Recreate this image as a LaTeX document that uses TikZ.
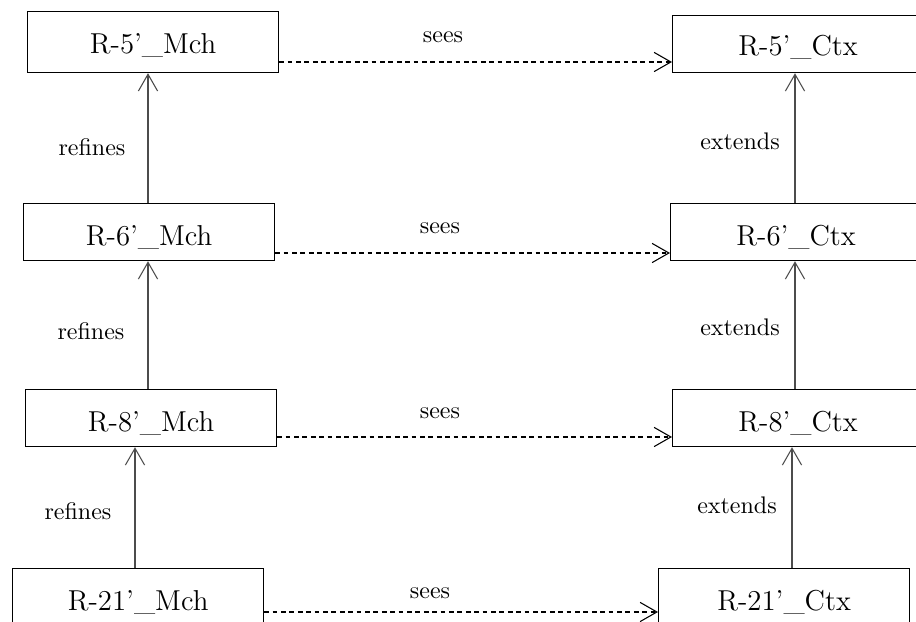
\documentclass[tikz,border=0pt]{standalone}
\usetikzlibrary{arrows.meta}
\begin{document}
\begin{tikzpicture}[x=0.41667pt,y=-0.41667pt,
  box/.style={draw, line width=0.5pt, inner sep=0pt, minimum width=104.6pt,
    text height=17.5pt, text depth=6.25pt, font=\large, anchor=north west},
  lbl/.style={font=\normalsize, inner sep=0pt},
  refarrow/.style={-{Straight Barb[length=7pt,width=8pt]}, line width=0.45pt, draw=black!70},
  seesarrow/.style={-{Straight Barb[length=7pt,width=8pt]}, dash pattern=on 2pt off 1.5pt, line width=0.45pt}]
\useasboundingbox (0,0) rectangle (916,622);

% Mch column
\node[box, text depth=7.9pt] (m1) at (27,11) {R-5'\_Mch};
\node[box] (m2) at (23,203) {R-6'\_Mch};
\node[box] (m3) at (25,389) {R-8'\_Mch};
\node[box] (m4) at (12,568) {R-21'\_Mch};

% Ctx column
\node[box, text height=16.7pt, text depth=7.05pt] (c1) at (672,15) {R-5'\_Ctx};
\node[box] (c2) at (670,203) {R-6'\_Ctx};
\node[box] (c3) at (672,389) {R-8'\_Ctx};
\node[box] (c4) at (658,568) {R-21'\_Ctx};

% refines arrows
\draw[refarrow] (m2.north -| 148,0) -- (m1.south -| 148,0);
\draw[refarrow] (m3.north -| 148,0) -- (m2.south -| 148,0);
\draw[refarrow] (m4.north -| 135,0) -- (m3.south -| 135,0);

% extends arrows
\draw[refarrow] (c2.north -| 795,0) -- (c1.south -| 795,0);
\draw[refarrow] (c3.north -| 795,0) -- (c2.south -| 795,0);
\draw[refarrow] (c4.north -| 792,0) -- (c3.south -| 792,0);

% sees arrows
\draw[seesarrow] (m1.east |- 0,62) -- (c1.west |- 0,62);
\draw[seesarrow] (m2.east |- 0,253) -- (c2.west |- 0,253);
\draw[seesarrow] (m3.east |- 0,437) -- (c3.west |- 0,437);
\draw[seesarrow] (m4.east |- 0,612) -- (c4.west |- 0,612);

% labels
\node[lbl] (s1) at (443,37) {sees};
\node[lbl] (s2) at (440,228) {sees};
\node[lbl] (s3) at (440,413) {sees};
\node[lbl] (s4) at (430,593) {sees};
\node[lbl] (r1) at (92,147) {refines};
\node[lbl] (r2) at (91,331) {refines};
\node[lbl] (r3) at (78,511) {refines};
\node[lbl] (e1) at (740,141) {extends};
\node[lbl] (e2) at (740,327) {extends};
\node[lbl] (e3) at (737,505) {extends};
\end{tikzpicture}
\end{document}
